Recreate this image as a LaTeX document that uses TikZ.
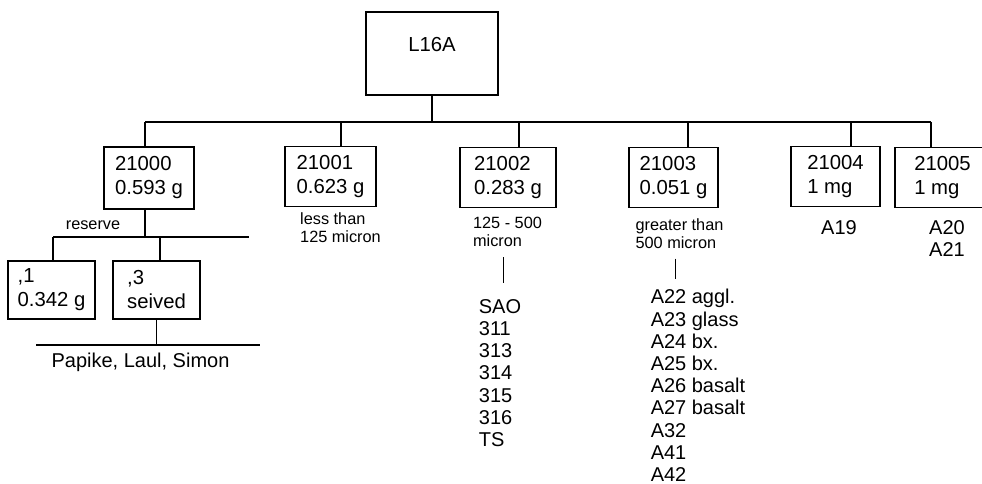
\documentclass[tikz,border=0pt]{standalone}
\usepackage{fontspec}
\setmainfont{Liberation Sans}
\usetikzlibrary{positioning}

\begin{document}
\begin{tikzpicture}[x=1pt,y=-1pt,line width=1.2pt,
  box/.style={draw,align=left,minimum height=60pt,inner sep=2pt,font=\fontsize{20.3}{24}\selectfont},
  note/.style={align=left,inner sep=0pt,font=\fontsize{16.3}{18}\selectfont},
  items/.style={align=left,inner sep=0pt,font=\fontsize{20}{22.2}\selectfont}]
  \useasboundingbox (0,0) rectangle (982,484);
  % sample and its splits
  \node[box,minimum width=132pt,minimum height=83pt,text height=14pt,text depth=18pt] (l16a) at (432,53.5) {L16A};
  \node[box,minimum width=90pt,minimum height=62pt] (b21000) at (149,178) {21000\\0.593 g};
  \node[box,minimum width=91pt] (b21001) at (330.5,176.5) {21001\\0.623 g};
  \node[box,minimum width=96pt] (b21002) at (508,177.5) {21002\\0.283 g};
  \node[box,minimum width=89pt] (b21003) at (673.5,177.5) {21003\\0.051 g};
  \node[box,minimum width=89pt] (b21004) at (835.5,176.5) {21004\\1 mg};
  \node[box,minimum width=95pt] (b21005) at (942.5,177.5) {21005\\1 mg};
  \coordinate (t0) at (145,122);
  \coordinate (t1) at (341,122);
  \coordinate (t2) at (519,122);
  \coordinate (t3) at (688,122);
  \coordinate (t4) at (851,122);
  \coordinate (t5) at (931,122);
  \draw (l16a) -- (l16a |- t0);
  \draw (t0) -- (t5);
  \draw (t0) -- (t0 |- b21000.north);
  \draw (t1) -- (t1 |- b21001.north);
  \draw (t2) -- (t2 |- b21002.north);
  \draw (t3) -- (t3 |- b21003.north);
  \draw (t4) -- (t4 |- b21004.north);
  \draw (t5) -- (t5 |- b21005.north);
  % size fractions
  \node[note] (n21001) at (340.5,228) {less than\\125 micron};
  \node[note] (n21002) at (507.5,232) {125 - 500\\micron};
  \node[note] (n21003) at (679.5,234) {greater than\\500 micron};
  \node[items] (l21002) at (500,373) {SAO\\311\\313\\314\\315\\316\\TS};
  \node[items] (l21003) at (698,385.5) {A22 aggl.\\A23 glass\\A24 bx.\\A25 bx.\\A26 basalt\\A27 basalt\\A32\\A41\\A42};
  \node[items] (l21004) at (839,228) {A19};
  \node[items] (l21005) at (947,238.5) {A20\\A21};
  \draw[shorten <=10pt,shorten >=16pt] ([xshift=-4pt]n21002.south) -- ([xshift=-4pt]n21002.south |- l21002.north);
  \draw[shorten <=9pt,shorten >=10pt] ([xshift=-4pt]n21003.south) -- ([xshift=-4pt]n21003.south |- l21003.north);
  % 21000 subsplits
  \coordinate (s0) at (53,237);
  \coordinate (s1) at (160,237);
  \coordinate (s2) at (249,237);
  \draw (t0 |- b21000.south) -- (t0 |- s0);
  \draw (s0) -- (s2);
  \node[note] (reserve) at (93,225) {reserve};
  \node[box,minimum width=87pt,minimum height=58pt] (b1) at (51.5,290) {,1\\0.342 g};
  \node[box,minimum width=87pt,minimum height=58pt] (b3) at (156.5,290) {,3\\seived};
  \draw (s0) -- (s0 |- b1.north);
  \draw (s1) -- (s1 |- b3.north);
  \coordinate (p0) at (36,345);
  \coordinate (p1) at (260,345);
  \draw (b3) -- (b3 |- p0);
  \draw (p0) -- (p1);
  \node[items] (users) at (140.5,362) {Papike, Laul, Simon};
\end{tikzpicture}
\end{document}
